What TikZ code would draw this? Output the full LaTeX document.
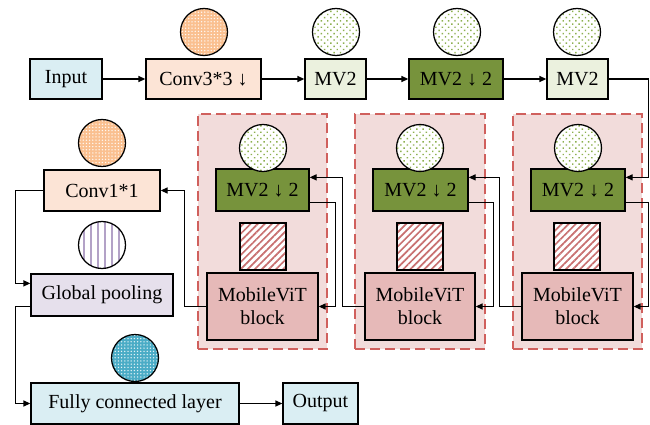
\documentclass[tikz,border=0pt]{standalone}
\usepackage{fontspec}
\setmainfont{Liberation Serif}
\usetikzlibrary{arrows.meta,patterns.meta,calc}
\definecolor{inblue}{HTML}{DAEEF3}
\definecolor{peach}{HTML}{FCE4D6}
\definecolor{ltgreen}{HTML}{EBF1DE}
\definecolor{olive}{HTML}{77933C}
\definecolor{panelpink}{HTML}{F2DCDB}
\definecolor{vitpink}{HTML}{E6B9B8}
\definecolor{lavender}{HTML}{E6E0EC}
\definecolor{orangec}{HTML}{FAC090}
\definecolor{bluec}{HTML}{4BACC6}
\definecolor{purplec}{HTML}{B3A2C7}
\definecolor{greendot}{HTML}{8DB04F}
\definecolor{reddash}{HTML}{D0605D}
\definecolor{hatchred}{HTML}{C87070}
\tikzset{
  box/.style={draw, line width=1.25pt, inner sep=0pt, align=center,
    font=\fontsize{20}{23}\selectfont},
  arr/.style={line width=1.25pt, -{Triangle[length=7pt,width=6pt]}},
  panel/.style={draw=reddash, fill=panelpink, line width=1.3pt, dash pattern=on 10pt off 5pt},
  orangedot/.style={circle, draw, line width=1.25pt, minimum size=47pt, inner sep=0pt,
    preaction={fill=orangec}, pattern={Dots[radius=0.75pt, distance=3.2pt]}, pattern color=white!90!orangec},
  greendotc/.style={circle, draw, line width=1.25pt, minimum size=47pt, inner sep=0pt,
    preaction={fill=white}, pattern={Dots[radius=1pt, distance=4.5pt, angle=45]}, pattern color=greendot},
  stripec/.style={circle, draw, line width=1.25pt, minimum size=47pt, inner sep=0pt,
    preaction={fill=white}, pattern={Lines[angle=90, distance=7pt, line width=1.8pt]}, pattern color=purplec},
  bluedot/.style={circle, draw, line width=1.25pt, minimum size=47pt, inner sep=0pt,
    preaction={fill=bluec}, pattern={Dots[radius=0.75pt, distance=3.2pt]}, pattern color=white!85!bluec},
  hatchsq/.style={rectangle, draw, line width=1.25pt, minimum width=46pt, minimum height=47pt, inner sep=0pt,
    preaction={fill=white}, pattern={Lines[angle=45, distance=5pt, line width=1.7pt]}, pattern color=hatchred},
}
\begin{document}
\begin{tikzpicture}[x=1pt,y=-1pt]
\useasboundingbox (0,0) rectangle (650,425);
% panels
\node[panel, minimum width=129pt, minimum height=235pt, inner sep=0pt] (p1) at (262.5,231.5) {};
\node[panel, minimum width=130pt, minimum height=235pt, inner sep=0pt] (p2) at (420,231.5) {};
\node[panel, minimum width=129pt, minimum height=235pt, inner sep=0pt] (p3) at (577.5,231.5) {};
% top row
\node[box, fill=inblue, minimum width=72pt, minimum height=40pt] (in) at (66,79) {Input};
\node[box, fill=peach, minimum width=115pt, minimum height=40pt] (conv) at (203.5,79) {Conv3*3 ↓};
\node[box, fill=ltgreen, minimum width=61pt, minimum height=40pt] (mva) at (335.5,79) {MV2};
\node[box, fill=olive, minimum width=94pt, minimum height=40pt] (mvd) at (456,79) {MV2 ↓ 2};
\node[box, fill=ltgreen, minimum width=61pt, minimum height=40pt] (mvb) at (577.5,79) {MV2};
\node[orangedot] (cconv) at (204,32) {};
\node[greendotc] (cmva) at (336,32) {};
\node[greendotc] (cmvd) at (457,32) {};
\node[greendotc] (cmvb) at (577,32) {};
% panel contents
\node[box, fill=olive, minimum width=93pt, minimum height=42pt] (m1) at (262.5,190) {MV2 ↓ 2};
\node[box, fill=olive, minimum width=95pt, minimum height=42pt] (m2) at (420.5,190) {MV2 ↓ 2};
\node[box, fill=olive, minimum width=94pt, minimum height=42pt] (m3) at (578,190) {MV2 ↓ 2};
\node[greendotc] (cm1) at (263,148) {};
\node[greendotc] (cm2) at (420,148) {};
\node[greendotc] (cm3) at (578,148) {};
\node[hatchsq] (h1) at (263,246.5) {};
\node[hatchsq] (h2) at (420,246.5) {};
\node[hatchsq] (h3) at (577,246.5) {};
\node[box, fill=vitpink, minimum width=111pt, minimum height=67pt] (v1) at (262.5,306.5) {MobileViT\\block};
\node[box, fill=vitpink, minimum width=110pt, minimum height=67pt] (v2) at (420,306.5) {MobileViT\\block};
\node[box, fill=vitpink, minimum width=111pt, minimum height=67pt] (v3) at (577.5,306.5) {MobileViT\\block};
% left column
\node[box, fill=peach, minimum width=116pt, minimum height=41pt] (c1) at (102,190.5) {Conv1*1};
\node[orangedot] (cc1) at (102,143) {};
\node[box, fill=lavender, minimum width=142pt, minimum height=42pt] (gp) at (102,295) {Global pooling};
\node[stripec] (cgp) at (102,245) {};
\node[box, fill=inblue, minimum width=208pt, minimum height=41pt] (fc) at (135,403.5) {Fully connected layer};
\node[bluedot] (cfc) at (135,358) {};
\node[box, fill=inblue, minimum width=75pt, minimum height=41pt] (out) at (320.5,403.5) {Output};
% connectors
\draw[arr] (in.east) -- (conv.west);
\draw[arr] (conv.east) -- (mva.west);
\draw[arr] (mva.east) -- (mvd.west);
\draw[arr] (mvd.east) -- (mvb.west);
\draw[arr] (mvb.east) -- ++(40,0) |- ($(m3.north east)+(0,9)$);
\draw[arr] ($(m3.south east)+(0,-9)$) -- ++(23,0) |- (v3.east);
\draw[arr] (v3.west) -- ++(-22,0) |- ($(m2.north east)+(0,9)$);
\draw[arr] ($(m2.south east)+(0,-9)$) -- ++(25,0) |- (v2.east);
\draw[arr] (v2.west) -- ++(-22,0) |- ($(m1.north east)+(0,9)$);
\draw[arr] ($(m1.south east)+(0,-9)$) -- ++(26,0) |- (v1.east);
\draw[arr] (v1.west) -- ++(-22,0) |- (c1.east);
\draw[arr] (c1.west) -- ++(-28,0) |- ($(gp.north west)+(0,10)$);
\draw[arr] ($(gp.south west)+(0,-10)$) -- ++(-15,0) |- (fc.west);
\draw[arr] (fc.east) -- (out.west);
\end{tikzpicture}
\end{document}
